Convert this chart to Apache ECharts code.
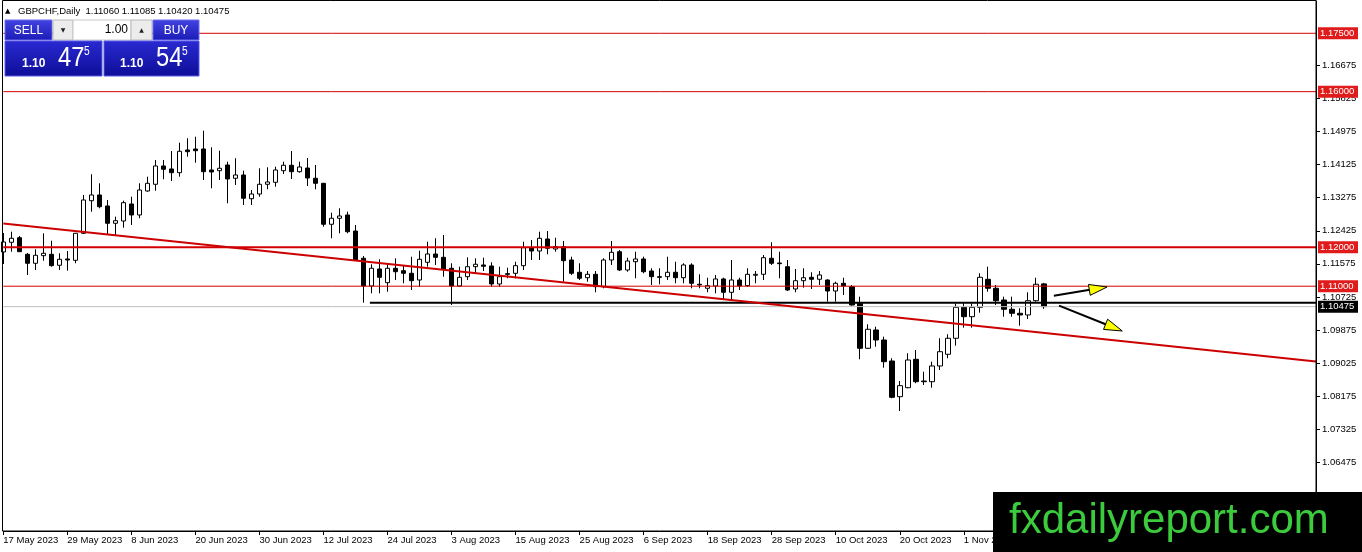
<!DOCTYPE html>
<html><head><meta charset="utf-8">
<script src="https://cdn.jsdelivr.net/npm/echarts@6/dist/echarts.min.js"></script>
<style>html,body{margin:0;padding:0;background:#fff;}#c{width:1362px;height:552px;}</style>
</head><body><div id="c"></div>
<script>
// ---------- DATA ----------
const symbol = 'GBPCHF';
const timeframe = 'Daily';
const firstDate = [2023, 4, 17]; // 17 May 2023
const barCount = 165;            // bars visible across the window (incl. chart shift)
const monthNames = ['Jan','Feb','Mar','Apr','May','Jun','Jul','Aug','Sep','Oct','Nov','Dec'];

const opens = [1.11880,1.12129,1.12247,1.11820,1.11589,1.11785,1.11820,1.11538,1.11700,1.11666,
1.12360,1.13198,1.13345,1.13062,1.12617,1.12676,1.13113,1.12831,1.13447,1.13620,
1.14090,1.14013,1.13918,1.14501,1.14527,1.14527,1.13987,1.13969,1.14116,1.13774,
1.13859,1.13249,1.13370,1.13620,1.13671,1.13969,1.14108,1.13943,1.14038,1.13774,
1.13645,1.12592,1.12746,1.12831,1.12419,1.11718,1.11006,1.11443,1.11091,1.11461,
1.11399,1.11332,1.11160,1.11615,1.11828,1.11743,1.11461,1.11006,1.11245,1.11502,
1.11546,1.11520,1.11057,1.11322,1.11332,1.11528,1.11990,1.11905,1.12214,1.11957,
1.12016,1.11674,1.11358,1.11219,1.11306,1.10988,1.11674,1.11887,1.11417,1.11630,
1.11700,1.11391,1.11245,1.11245,1.11358,1.11219,1.11546,1.11050,1.10947,1.11006,
1.11186,1.10844,1.11160,1.11014,1.11281,1.11306,1.11718,1.11597,1.11502,1.10929,
1.11142,1.11229,1.11178,1.11160,1.10877,1.11075,1.10988,1.10561,1.09405,1.09875,
1.09618,1.09078,1.08161,1.08392,1.09122,1.08564,1.08546,1.08950,1.09251,1.09662,
1.10458,1.10217,1.10458,1.11178,1.10947,1.10646,1.10407,1.10304,1.10261,1.10628,
1.11060];
const highs = [1.12368,1.12401,1.12291,1.11854,1.11949,1.12360,1.12170,1.11846,1.11905,1.12368,
1.13345,1.13877,1.13645,1.13216,1.12787,1.13198,1.13301,1.13645,1.13815,1.14244,
1.14244,1.14475,1.14689,1.14802,1.14843,1.14997,1.14570,1.14483,1.14200,1.14288,
1.13969,1.13473,1.14031,1.14056,1.14072,1.14200,1.14475,1.14200,1.14295,1.14116,
1.13653,1.12890,1.13003,1.12915,1.12574,1.11777,1.11564,1.11692,1.11564,1.11718,
1.11546,1.11759,1.11913,1.12144,1.12232,1.12317,1.11589,1.11502,1.11743,1.11718,
1.11733,1.11615,1.11502,1.11476,1.11630,1.12144,1.12188,1.12401,1.12419,1.12247,
1.12162,1.11759,1.11589,1.11391,1.11391,1.11718,1.12162,1.11931,1.11733,1.11887,
1.11759,1.11461,1.11461,1.11759,1.11630,1.11589,1.11589,1.11306,1.11219,1.11289,
1.11219,1.11674,1.11219,1.11461,1.11391,1.11803,1.12129,1.11887,1.11674,1.11443,
1.11461,1.11358,1.11391,1.11178,1.11116,1.11219,1.11032,1.10731,1.10022,1.09960,
1.09703,1.09148,1.08564,1.09276,1.09361,1.08803,1.09060,1.09662,1.09765,1.10561,
1.10587,1.10561,1.11332,1.11502,1.11032,1.10731,1.10731,1.10433,1.10844,1.11219,
1.11085];
const lows = [1.11571,1.11887,1.11880,1.11289,1.11417,1.11656,1.11502,1.11417,1.11399,1.11589,
1.12342,1.12915,1.13003,1.12317,1.12317,1.12504,1.12574,1.12746,1.13429,1.13455,
1.13748,1.13704,1.13815,1.14329,1.14175,1.13730,1.13517,1.13730,1.13131,1.13602,
1.13088,1.13088,1.13301,1.13491,1.13558,1.13884,1.13756,1.13918,1.13576,1.13491,
1.12530,1.12232,1.12360,1.12360,1.11656,1.10577,1.10818,1.10818,1.10859,1.11160,
1.11075,1.10903,1.10988,1.11502,1.11546,1.11245,1.10518,1.10988,1.11160,1.11332,
1.11391,1.10988,1.10988,1.11204,1.11204,1.11417,1.11674,1.11674,1.11820,1.11887,
1.11116,1.11289,1.11160,1.11116,1.10844,1.10947,1.11546,1.11391,1.11373,1.11204,
1.11332,1.11032,1.11050,1.11160,1.11075,1.11075,1.10947,1.10947,1.10844,1.10818,
1.10672,1.10646,1.10903,1.10988,1.11075,1.11160,1.11546,1.11204,1.10877,1.10844,
1.10962,1.10929,1.11032,1.10602,1.10602,1.10775,1.10500,1.09122,1.09387,1.09446,
1.08906,1.08120,1.07793,1.08377,1.08505,1.08462,1.08392,1.08847,1.09148,1.09472,
1.09934,1.09934,1.10320,1.10859,1.10518,1.10217,1.10217,1.09986,1.10158,1.10602,
1.10420];
const closes = [1.12137,1.12232,1.11887,1.11589,1.11795,1.11846,1.11528,1.11692,1.11674,1.12360,
1.13216,1.13345,1.13044,1.12617,1.12684,1.13147,1.12831,1.13473,1.13645,1.14090,
1.14005,1.13918,1.14468,1.14457,1.14483,1.13943,1.13936,1.14031,1.13756,1.13859,
1.13260,1.13370,1.13620,1.13679,1.13987,1.14108,1.13943,1.14064,1.13781,1.13645,
1.12592,1.12746,1.12805,1.12401,1.11674,1.11006,1.11461,1.11229,1.11461,1.11373,
1.11332,1.11142,1.11692,1.11828,1.11743,1.11435,1.11006,1.11229,1.11502,1.11564,
1.11512,1.11057,1.11245,1.11306,1.11528,1.11990,1.11905,1.12232,1.11975,1.12016,
1.11656,1.11332,1.11204,1.11306,1.10988,1.11674,1.11872,1.11417,1.11648,1.11700,
1.11373,1.11245,1.11229,1.11358,1.11219,1.11546,1.11075,1.11032,1.11014,1.11186,
1.10844,1.11160,1.11006,1.11306,1.11306,1.11733,1.11589,1.11579,1.10903,1.11142,
1.11219,1.11178,1.11289,1.10877,1.11075,1.11006,1.10518,1.09405,1.09893,1.09618,
1.09060,1.08145,1.08444,1.09104,1.08546,1.08546,1.08950,1.09317,1.09662,1.10458,
1.10217,1.10458,1.11229,1.10947,1.10628,1.10407,1.10304,1.10261,1.10628,1.11050,
1.10475];

const askPrice = 1.10545;
const yTicks = [1.05625,1.06475,1.07325,1.08175,1.09025,1.09875,1.10725,1.11575,1.12425,1.13275,1.14125,1.14975,1.15825,1.16675];
const yMin = 1.04709, yMax = 1.18330;

const redLevels = [1.17500, 1.16000, 1.12000, 1.11000];
const bidLevel = 1.10475;
const supportLine = [[45.8, 1.10573], [164, 1.10573]];
const trendLine = [[0, 1.12609], [164, 1.09065]];
const arrows = [[131.25, 1.10757, 137.9, 1.10980], [131.9, 1.10500, 139.8, 1.09849]];
const watermark = 'fxdailyreport.com';

// ---------- BUILD ----------
const categories = [];
{
  const d = new Date(Date.UTC(firstDate[0], firstDate[1], firstDate[2]));
  while (categories.length < barCount) {
    const wd = d.getUTCDay();
    if (wd !== 0 && wd !== 6) categories.push(d.getUTCDate() + ' ' + monthNames[d.getUTCMonth()] + ' ' + d.getUTCFullYear());
    d.setUTCDate(d.getUTCDate() + 1);
  }
}
const candleData = opens.map((o, i) => [o, closes[i], lows[i], highs[i]]);
const last = opens.length - 1;
const FONT = 'Liberation Sans';

const levelSeries = redLevels.map(v => ({
  type: 'line', xAxisIndex: 1, yAxisIndex: 0, symbol: 'none', silent: true, z: 4,
  data: [[0, v], [barCount - 1, v]],
  lineStyle: { color: '#d40000', width: v === 1.12 ? 2 : 1 }
}));

const chart = echarts.init(document.getElementById('c'), null, { renderer: 'canvas' });
chart.setOption({
  animation: false,
  backgroundColor: '#ffffff',
  grid: { left: 3.3, right: 46, top: 1, bottom: 21 },
  xAxis: [{
    type: 'category', data: categories, boundaryGap: false,
    axisLine: { onZero: false, lineStyle: { color: '#000', width: 1 } },
    axisTick: { interval: 7, length: 4, lineStyle: { color: '#000' } },
    axisLabel: { interval: 7, align: 'left', margin: 4, color: '#000', fontSize: 9.5, fontFamily: FONT },
    splitLine: { show: false }
  }, {
    type: 'value', min: 0, max: barCount - 1, show: false,
    axisLine: { onZero: false }
  }],
  yAxis: [{
    type: 'value', position: 'right', min: yMin, max: yMax, scale: true,
    axisLine: { show: true, onZero: false, lineStyle: { color: '#000', width: 1 } },
    axisTick: { show: true, length: 4, customValues: yTicks, lineStyle: { color: '#000' } },
    axisLabel: { customValues: yTicks, margin: 6, color: '#000', fontSize: 9.5, fontFamily: FONT,
      formatter: v => v.toFixed(5) },
    splitLine: { show: false }
  }],
  series: [
    {
      type: 'candlestick', xAxisIndex: 0, yAxisIndex: 0, data: candleData, barWidth: 5, clip: false, z: 2,
      itemStyle: { color: '#ffffff', color0: '#000000', borderColor: '#000000', borderColor0: '#000000', borderWidth: 1 }
    },
    ...levelSeries,
    { type: 'line', xAxisIndex: 1, yAxisIndex: 0, symbol: 'none', silent: true, z: 3,
      data: [[0, bidLevel], [barCount - 1, bidLevel]], lineStyle: { color: '#c0c0c0', width: 1 } },
    { type: 'line', xAxisIndex: 1, yAxisIndex: 0, symbol: 'none', silent: true, z: 4,
      data: supportLine, lineStyle: { color: '#000000', width: 2 } },
    { type: 'line', xAxisIndex: 1, yAxisIndex: 0, symbol: 'none', silent: true, z: 4,
      data: trendLine, lineStyle: { color: '#cc0000', width: 2 } },
    { type: 'custom', xAxisIndex: 1, yAxisIndex: 0, silent: true, z: 5,
      data: arrows, encode: { x: [0, 2], y: [1, 3] },
      renderItem: (params, api) => {
        const p1 = api.coord([api.value(0), api.value(1)]);
        const p2 = api.coord([api.value(2), api.value(3)]);
        const dx = p2[0] - p1[0], dy = p2[1] - p1[1];
        const len = Math.hypot(dx, dy), ux = dx / len, uy = dy / len;
        const hl = 18, hw = 5.5;
        const b = [p2[0] - ux * hl, p2[1] - uy * hl];
        return { type: 'group', children: [
          { type: 'line', shape: { x1: p1[0], y1: p1[1], x2: b[0] + ux * 2, y2: b[1] + uy * 2 }, style: { stroke: '#000', lineWidth: 2 } },
          { type: 'polygon', shape: { points: [p2, [b[0] - uy * hw, b[1] + ux * hw], [b[0] + uy * hw, b[1] - ux * hw]] },
            style: { fill: '#ffff00', stroke: '#000', lineWidth: 1 } }
        ]};
      }
    }
  ]
});

// ---------- OVERLAYS ----------
const g = [];
const yPix = v => chart.convertToPixel({ yAxisIndex: 0 }, v);
// chart frame
g.push({ type: 'rect', shape: { x: 2.5, y: 0.5, width: 1313.5, height: 530.5 }, style: { fill: 'none', stroke: '#000', lineWidth: 1 }, z: 50, silent: true });
// price tags on axis
redLevels.forEach(v => {
  const y = yPix(v);
  g.push({ type: 'rect', shape: { x: 1318, y: y - 6, width: 40, height: 12 }, style: { fill: '#e01b1b' }, z: 60 });
  g.push({ type: 'text', x: 1320, y: y, style: { text: v.toFixed(5), fill: '#fff', font: '9.5px "Liberation Sans"', textVerticalAlign: 'middle' }, z: 61 });
});
{
  const y = yPix(bidLevel);
  g.push({ type: 'rect', shape: { x: 1318, y: y - 6, width: 40, height: 12 }, style: { fill: '#000' }, z: 60 });
  g.push({ type: 'text', x: 1320, y: y, style: { text: bidLevel.toFixed(5), fill: '#fff', font: '9.5px "Liberation Sans"', textVerticalAlign: 'middle' }, z: 61 });
}
// header
g.push({ type: 'text', x: 5, y: 11, style: { text: '▲', fill: '#000', font: '7px "DejaVu Sans"', textVerticalAlign: 'middle' }, z: 60 });
g.push({ type: 'text', x: 18, y: 11, style: {
  text: symbol + ',' + timeframe + '  ' + [opens[last], highs[last], lows[last], closes[last]].map(v => v.toFixed(5)).join(' '),
  fill: '#000', font: '9.5px "Liberation Sans"', textVerticalAlign: 'middle' }, z: 60 });
// one-click panel
const btnGrad = new echarts.graphic.LinearGradient(0, 0, 0, 1, [{ offset: 0, color: '#4343e2' }, { offset: 1, color: '#1b1bb6' }]);
const bigGrad = new echarts.graphic.LinearGradient(0, 0, 0, 1, [{ offset: 0, color: '#2a2ad2' }, { offset: 1, color: '#0d0d98' }]);
g.push({ type: 'rect', shape: { x: 5, y: 20, width: 47, height: 20 }, style: { fill: btnGrad, stroke: '#6c6cf0', lineWidth: 1 }, z: 60 });
g.push({ type: 'text', x: 28.5, y: 30.5, style: { text: 'SELL', fill: '#fff', font: '12px "Liberation Sans"', textAlign: 'center', textVerticalAlign: 'middle' }, z: 61 });
g.push({ type: 'rect', shape: { x: 53, y: 20, width: 20, height: 20 }, style: { fill: '#ececec', stroke: '#b8b8b8', lineWidth: 1 }, z: 60 });
g.push({ type: 'text', x: 63, y: 30, style: { text: '▼', fill: '#222', font: '6px "DejaVu Sans"', textAlign: 'center', textVerticalAlign: 'middle' }, z: 61 });
g.push({ type: 'rect', shape: { x: 73, y: 20, width: 58, height: 20 }, style: { fill: '#fff', stroke: '#c8c8c8', lineWidth: 1 }, z: 60 });
g.push({ type: 'text', x: 128, y: 30, style: { text: '1.00', fill: '#000', font: '12px "Liberation Sans"', textAlign: 'right', textVerticalAlign: 'middle' }, z: 61 });
g.push({ type: 'rect', shape: { x: 131, y: 20, width: 21, height: 20 }, style: { fill: '#ececec', stroke: '#b8b8b8', lineWidth: 1 }, z: 60 });
g.push({ type: 'text', x: 141.5, y: 30, style: { text: '▲', fill: '#222', font: '6px "DejaVu Sans"', textAlign: 'center', textVerticalAlign: 'middle' }, z: 61 });
g.push({ type: 'rect', shape: { x: 153, y: 20, width: 46, height: 20 }, style: { fill: btnGrad, stroke: '#6c6cf0', lineWidth: 1 }, z: 60 });
g.push({ type: 'text', x: 176, y: 30.5, style: { text: 'BUY', fill: '#fff', font: '12px "Liberation Sans"', textAlign: 'center', textVerticalAlign: 'middle' }, z: 61 });
function priceBox(x, w, price, off) {
  const s = price.toFixed(5);
  g.push({ type: 'rect', shape: { x: x, y: 41, width: w, height: 35 }, style: { fill: bigGrad, stroke: '#5a5ae8', lineWidth: 1 }, z: 60 });
  g.push({ type: 'text', x: x + off, y: 70, style: { text: s.slice(0, 4), fill: '#fff', font: 'bold 12px "Liberation Sans"', textVerticalAlign: 'bottom' }, z: 61 });
  g.push({ type: 'text', x: x + off + 36, y: 72, scaleX: 0.85, style: { text: s.slice(4, 6), fill: '#fff', font: '28px "Liberation Sans"', textVerticalAlign: 'bottom' }, z: 61 });
  g.push({ type: 'text', x: x + off + 62, y: 58, scaleX: 0.85, style: { text: s.slice(6), fill: '#fff', font: '12px "Liberation Sans"', textVerticalAlign: 'bottom' }, z: 61 });
}
priceBox(5, 97, closes[last], 17);
priceBox(104, 95, askPrice, 16);
// watermark
g.push({ type: 'rect', shape: { x: 993, y: 492, width: 369, height: 60 }, style: { fill: '#000' }, z: 90 });
g.push({ type: 'text', x: 1009, y: 521, style: { text: watermark, fill: '#3ccb3c', font: '42px "Liberation Sans"', textVerticalAlign: 'middle' }, z: 91 });

chart.setOption({ graphic: g });
</script></body></html>
